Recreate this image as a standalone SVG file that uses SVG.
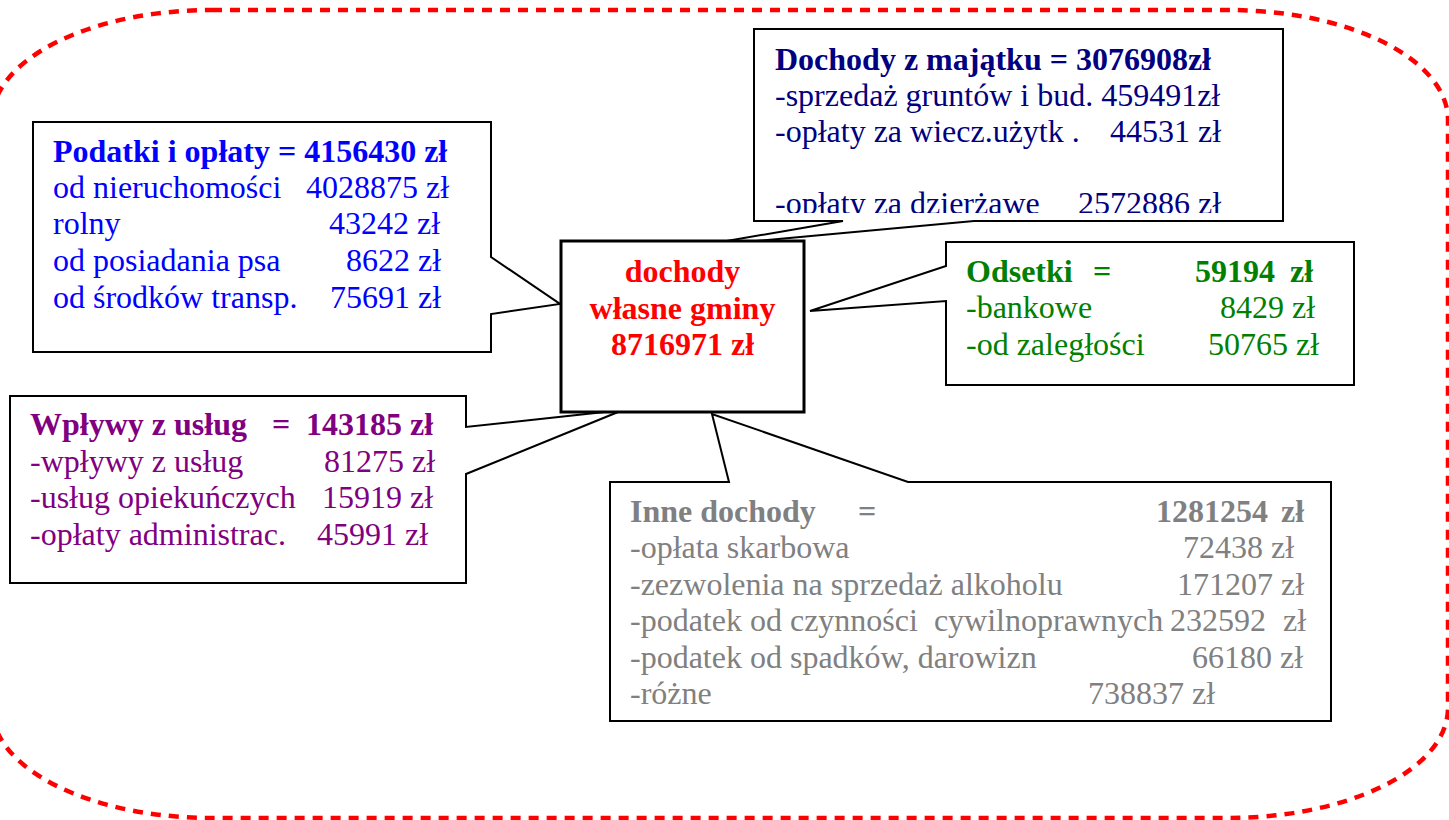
<svg xmlns="http://www.w3.org/2000/svg" width="1449" height="820" viewBox="0 0 1449 820">
<style>
text{font-family:"Liberation Serif","Times New Roman",serif;font-size:32px}
.b{font-weight:bold}
.box{fill:#fff;stroke:#000;stroke-width:2}
.blue{fill:#0000ff}
.navy{fill:#000080}
.green{fill:#008000}
.purple{fill:#800080}
.gray{fill:#808080}
.red{fill:#ff0000}
</style>
<defs>
<clipPath id="clipMaj"><rect x="754" y="29" width="529" height="184"/></clipPath>
</defs>
<rect id="border" x="-8" y="10" width="1456" height="808" rx="220" ry="110" fill="none" stroke="#ff0000" stroke-width="4.5" stroke-dasharray="10 8"/>
<g id="connectors">
<path class="box" d="M33,122 H491 V257 L560,304 L491,314 V352 H33 Z"/>
<path class="box" d="M754,29 H1283 V221 H974 L692,247 L843,221 H754 Z"/>
<path class="box" d="M946,242 H1354 V385 H946 V301 L810,311 L946,266 Z"/>
<path class="box" d="M10,396 H466 V427 L623,410 L466,474 V583 H10 Z"/>
<path class="box" d="M610,482 H729 L712,414 L908,482 H1331 V721 H610 Z"/>
</g>
<g id="podatki" class="blue">
<text class="b" x="53" y="162">Podatki i opłaty = 4156430 zł</text>
<text x="53" y="198">od nieruchomości</text><text x="306" y="198">4028875 zł</text>
<text x="53" y="234">rolny</text><text x="329" y="234">43242 zł</text>
<text x="53" y="271">od posiadania psa</text><text x="346" y="271">8622 zł</text>
<text x="53" y="308">od środków transp.</text><text x="330" y="308">75691 zł</text>
</g>
<g id="majatek" class="navy" clip-path="url(#clipMaj)">
<text class="b" x="775" y="70">Dochody z majątku = 3076908zł</text>
<text x="775" y="106">-sprzedaż gruntów i bud. 459491zł</text>
<text x="775" y="142">-opłaty za wiecz.użytk .</text><text x="1110" y="142">44531 zł</text>
<text x="775" y="214">-opłaty za dzierżawe</text><text x="1078" y="214">2572886 zł</text>
</g>
<g id="odsetki" class="green">
<text class="b" x="966" y="282">Odsetki</text><text class="b" x="1093" y="282">=</text><text class="b" x="1195" y="282">59194</text><text class="b" x="1290" y="282">zł</text>
<text x="966" y="318">-bankowe</text><text x="1220" y="318">8429 zł</text>
<text x="966" y="355">-od zaległości</text><text x="1208" y="355">50765 zł</text>
</g>
<g id="uslugi" class="purple">
<text class="b" x="30" y="435">Wpływy z usług</text><text class="b" x="272" y="435">=</text><text class="b" x="306" y="435">143185 zł</text>
<text x="30" y="472">-wpływy z usług</text><text x="324" y="472">81275 zł</text>
<text x="30" y="508">-usług opiekuńczych</text><text x="322" y="508">15919 zł</text>
<text x="30" y="545">-opłaty administrac.</text><text x="317" y="545">45991 zł</text>
</g>
<g id="inne" class="gray">
<text class="b" x="630" y="522">Inne dochody</text><text class="b" x="858" y="522">=</text><text class="b" x="1156" y="522">1281254</text><text class="b" x="1281" y="522">zł</text>
<text x="630" y="558">-opłata skarbowa</text><text x="1183" y="558">72438 zł</text>
<text x="630" y="595">-zezwolenia na sprzedaż alkoholu</text><text x="1177" y="595">171207 zł</text>
<text x="630" y="631" xml:space="preserve">-podatek od czynności  cywilnoprawnych</text><text x="1170" y="631">232592</text><text x="1283" y="631">zł</text>
<text x="630" y="668">-podatek od spadków, darowizn</text><text x="1192" y="668">66180 zł</text>
<text x="630" y="704">-różne</text><text x="1088" y="704">738837 zł</text>
</g>
<g id="center">
<rect x="561" y="241" width="243" height="171" fill="#fff" stroke="#000" stroke-width="3"/>
<text class="b red" x="682.5" y="282" text-anchor="middle">dochody</text>
<text class="b red" x="682.5" y="319" text-anchor="middle">własne gminy</text>
<text class="b red" x="682.5" y="355" text-anchor="middle">8716971 zł</text>
</g>
</svg>
